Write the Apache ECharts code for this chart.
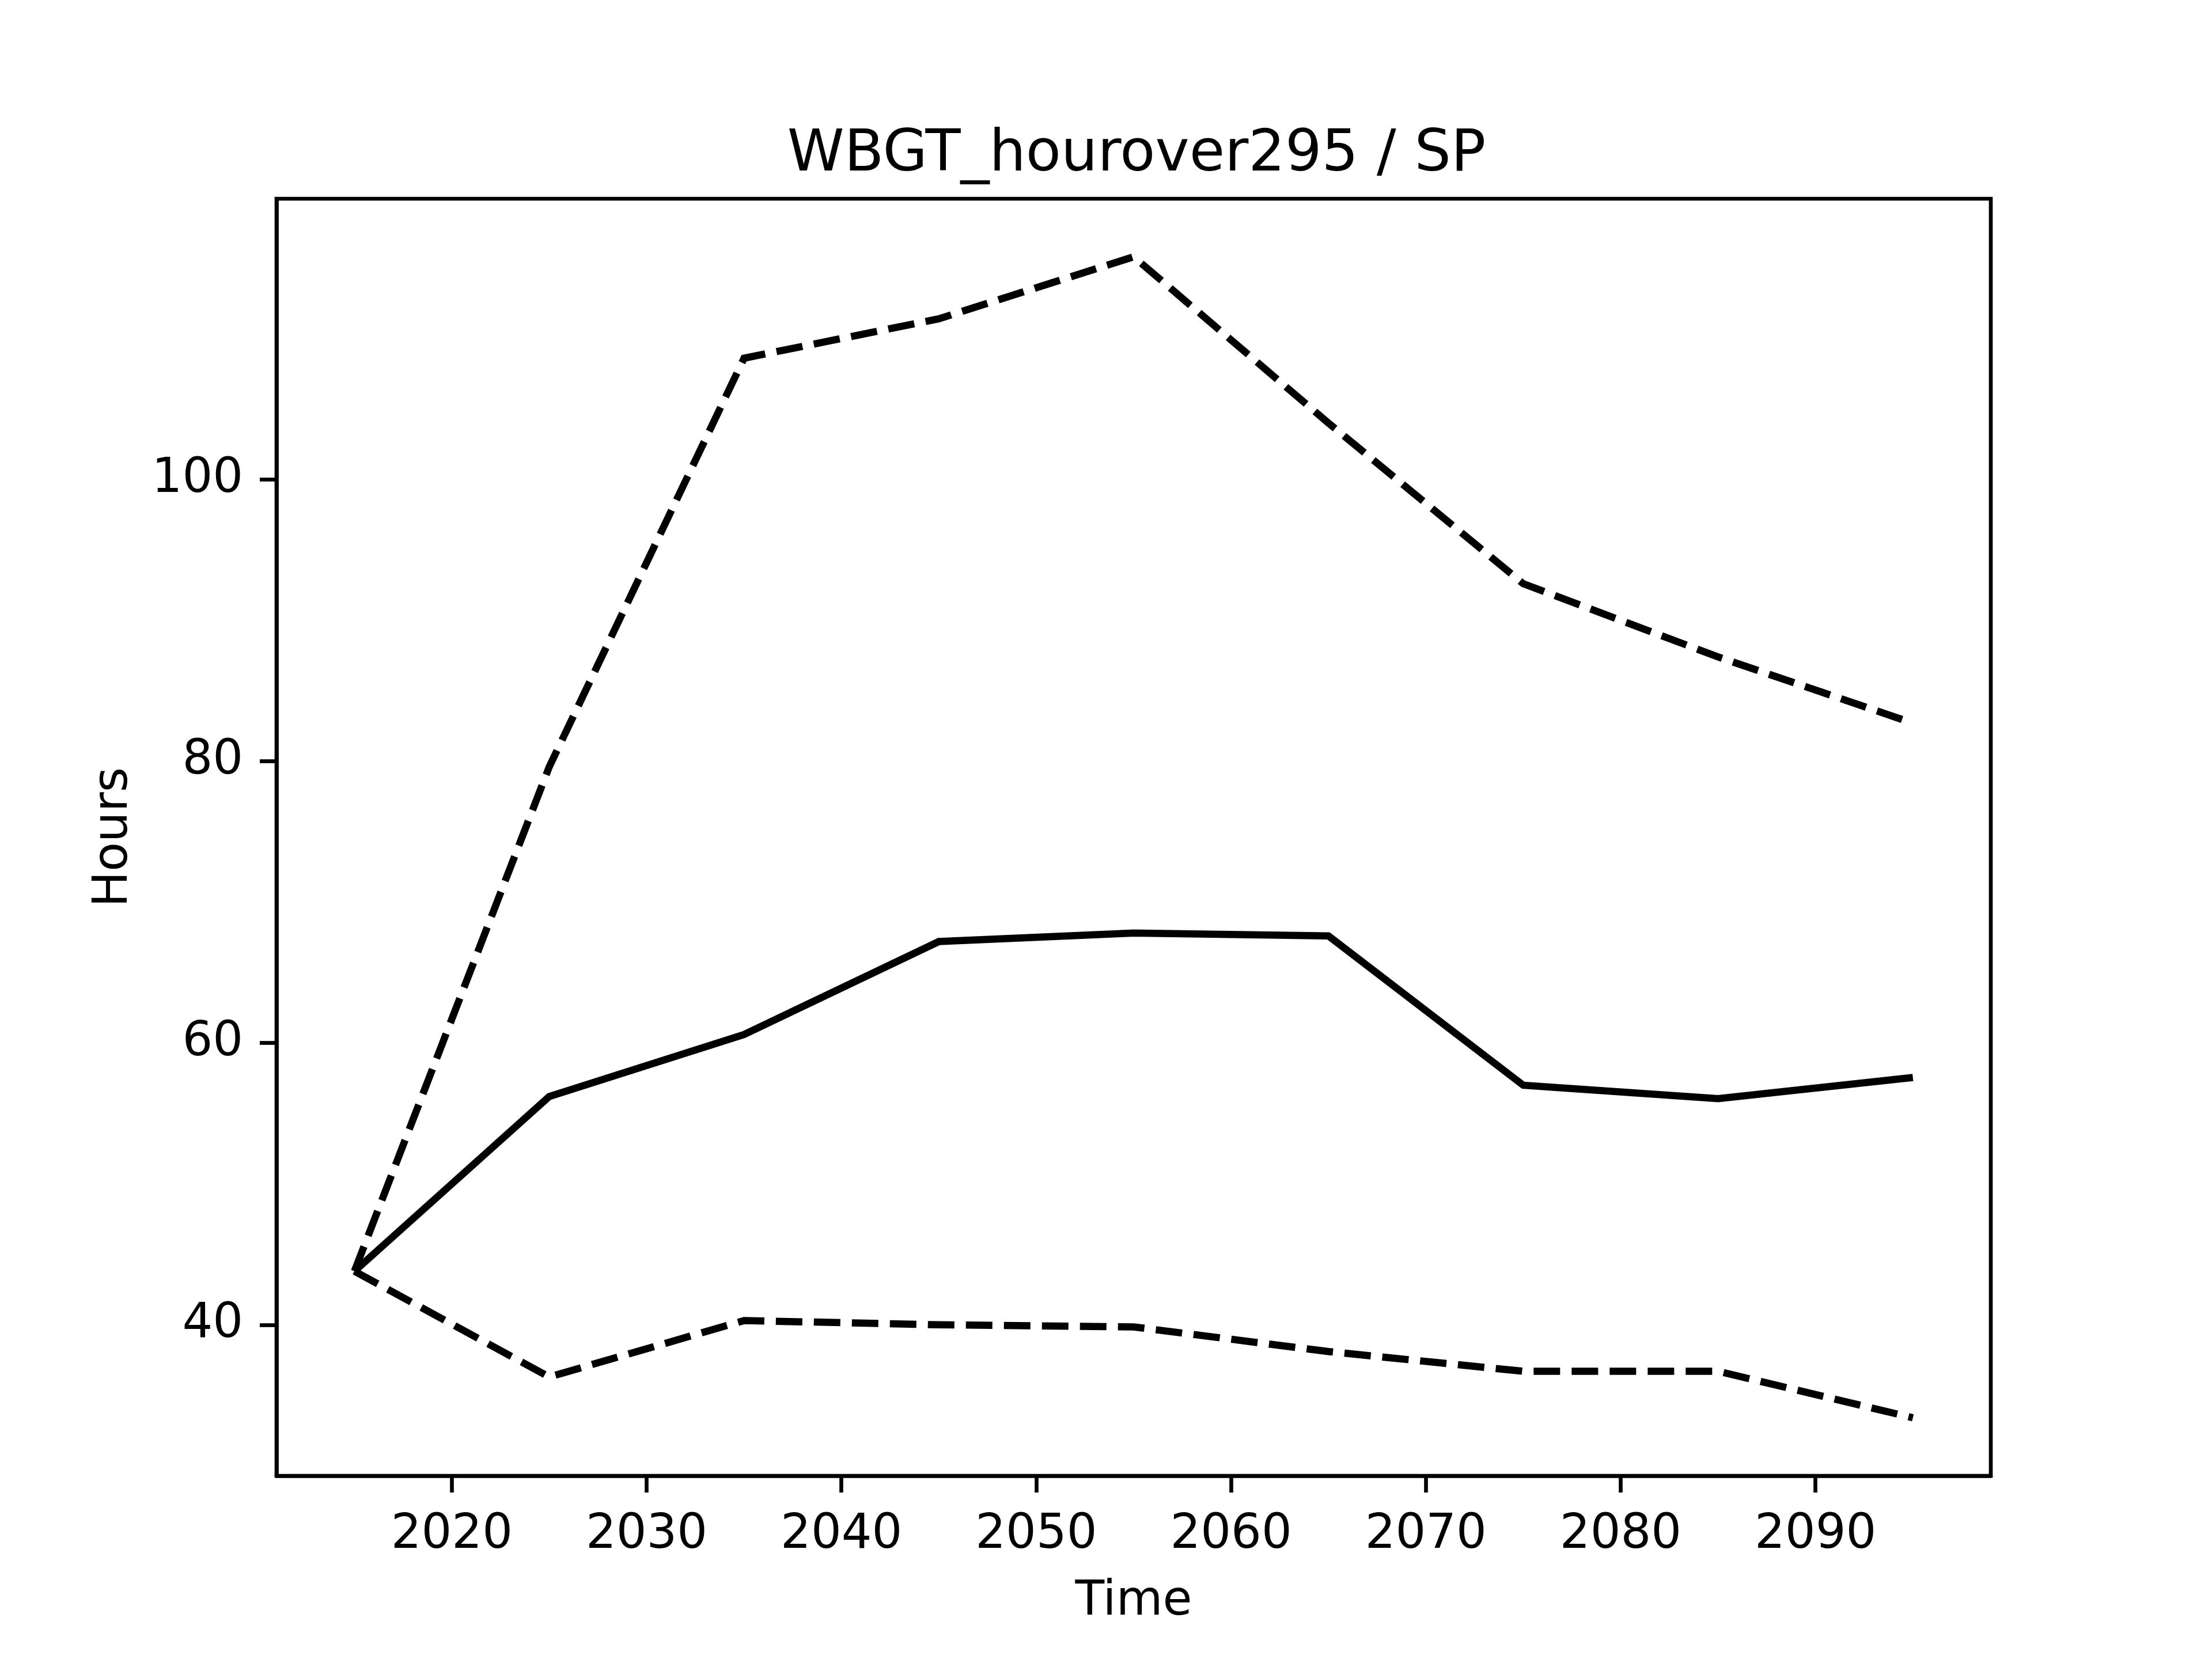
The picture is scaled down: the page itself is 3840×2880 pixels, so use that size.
<!DOCTYPE html>
<html>
<head>
<meta charset="utf-8">
<script src="https://cdn.jsdelivr.net/npm/echarts@6/dist/echarts.min.js"></script>
<style>html,body{margin:0;padding:0;background:#fff}#c{width:3840px;height:2880px}</style>
</head>
<body>
<div id="c"></div>
<script>
const years = [2015, 2025, 2035, 2045, 2055, 2065, 2075, 2085, 2095];
const meanValues = [43.8, 56.2, 60.6, 67.2, 67.8, 67.6, 57.0, 56.05, 57.55];
const upperValues = [43.8, 79.6, 108.6, 111.4, 115.8, 104.0, 92.6, 87.4, 82.7];
const lowerValues = [43.8, 36.3, 40.3, 40.0, 39.85, 38.1, 36.7, 36.7, 33.4];
const xTicks = [2020, 2030, 2040, 2050, 2060, 2070, 2080, 2090];
const yTicks = [40, 60, 80, 100];
const titleText = 'WBGT_hourover295 / SP';
const xName = 'Time';
const yName = 'Hours';

const pairs = v => years.map((y, i) => [y, v[i]]);
const allVals = meanValues.concat(upperValues, lowerValues);
const vmin = Math.min(...allVals), vmax = Math.max(...allVals);
const pad = (vmax - vmin) * 0.05;
const xpad = (years[years.length - 1] - years[0]) * 0.05;

const font = 'DejaVu Sans';
const chart = echarts.init(document.getElementById('c'), null, {renderer: 'canvas'});
chart.setOption({
  animation: false,
  backgroundColor: '#ffffff',
  title: {
    text: titleText, left: 1968, top: 215, textAlign: 'center',
    textStyle: {fontFamily: font, fontSize: 100, fontWeight: 'normal', color: '#000'}
  },
  grid: {left: 480, right: 384, top: 345, bottom: 318, show: true, borderColor: '#000', borderWidth: 6.67, backgroundColor: 'transparent'},
  xAxis: {
    type: 'value', min: years[0] - xpad, max: years[years.length - 1] + xpad,
    name: xName, nameLocation: 'middle', nameGap: 178,
    nameTextStyle: {fontFamily: font, fontSize: 83, color: '#000'},
    axisLine: {show: true, lineStyle: {color: '#000', width: 6.67}},
    axisTick: {show: true, customValues: xTicks, length: 29, lineStyle: {color: '#000', width: 6.67}},
    axisLabel: {customValues: xTicks, margin: 62, fontFamily: font, fontSize: 83, color: '#000', formatter: v => String(v)},
    splitLine: {show: false}
  },
  yAxis: {
    type: 'value', min: vmin - pad, max: vmax + pad,
    name: yName, nameLocation: 'middle', nameGap: 240,
    nameTextStyle: {fontFamily: font, fontSize: 83, color: '#000'},
    axisLine: {show: true, lineStyle: {color: '#000', width: 6.67}},
    axisTick: {show: true, customValues: yTicks, length: 29, lineStyle: {color: '#000', width: 6.67}},
    axisLabel: {customValues: yTicks, margin: 58, fontFamily: font, fontSize: 83, color: '#000', formatter: v => String(v)},
    splitLine: {show: false}
  },
  series: [
    {type: 'line', data: pairs(meanValues), showSymbol: false, symbol: 'none',
     lineStyle: {color: '#000', width: 12.5, type: 'solid', cap: 'butt', join: 'miter'}},
    {type: 'line', data: pairs(upperValues), showSymbol: false, symbol: 'none',
     lineStyle: {color: '#000', width: 12.5, type: [46, 20], cap: 'butt', join: 'miter'}},
    {type: 'line', data: pairs(lowerValues), showSymbol: false, symbol: 'none',
     lineStyle: {color: '#000', width: 12.5, type: [46, 20], cap: 'butt', join: 'miter'}}
  ]
});
</script>
</body>
</html>
